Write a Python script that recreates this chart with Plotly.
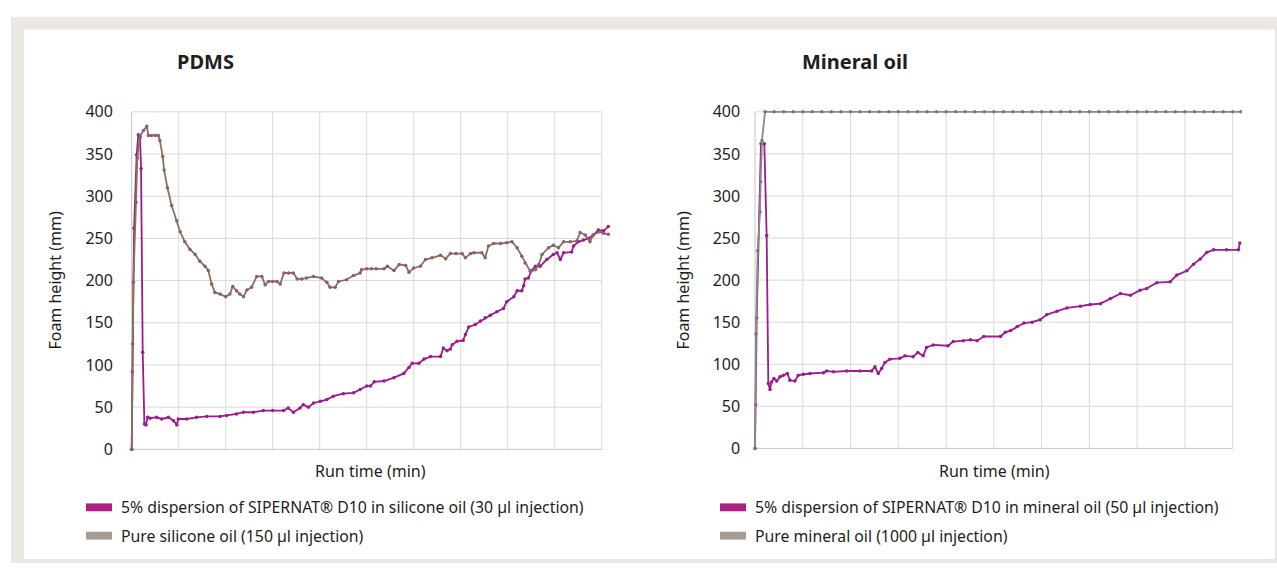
import plotly.graph_objects as go

# ---------------- data ----------------
# PDMS panel: pure silicone oil (150 µl)
pdms_oil_t = [0, 0.035, 0.092, 0.12, 0.177, 0.25, 0.32, 0.355, 0.42, 0.5, 0.567, 0.60, 0.66, 0.69, 0.76, 0.85,
              0.96, 1.03, 1.13, 1.24, 1.35, 1.45, 1.56, 1.63, 1.70, 1.77, 1.88, 2.0, 2.09, 2.15, 2.23, 2.30,
              2.38, 2.45, 2.55, 2.66, 2.77, 2.84, 2.91, 3.0, 3.09, 3.16, 3.24, 3.34, 3.44, 3.52, 3.62, 3.72,
              3.87, 4.04, 4.15, 4.22, 4.33, 4.40, 4.57, 4.72, 4.86, 4.89, 5.0, 5.1, 5.2, 5.37, 5.44, 5.58,
              5.69, 5.83, 5.90, 6.0, 6.14, 6.25, 6.39, 6.57, 6.68, 6.78, 6.9, 7.03, 7.10, 7.21, 7.28, 7.45,
              7.52, 7.59, 7.70, 7.85, 7.98, 8.09, 8.20, 8.30, 8.37, 8.48, 8.59, 8.66, 8.73, 8.87, 8.97, 9.08,
              9.19, 9.33, 9.47, 9.54, 9.65, 9.75, 9.82, 9.96, 10.04, 10.14]
pdms_oil_h = [0, 198, 293, 345, 372, 378, 383, 372, 372, 372, 372, 366, 347, 331, 310, 289,
              271, 258, 246, 237, 231, 223, 217, 212, 196, 186, 184, 181, 184, 193, 188, 184,
              181, 189, 192, 205, 205, 195, 199, 199, 199, 196, 209, 209, 209, 202, 202, 203,
              205, 203, 198, 192, 192, 199, 201, 206, 209, 213, 214, 214, 214, 214, 217, 212,
              219, 218, 210, 215, 217, 225, 227, 230, 226, 232, 232, 232, 227, 232, 233, 233,
              227, 241, 244, 244, 245, 246, 239, 229, 221, 211, 213, 219, 231, 239, 242, 239,
              246, 246, 247, 257, 254, 246, 254, 258, 256, 255]

# PDMS panel: 5% SIPERNAT D10 dispersion (30 µl)
pdms_disp_t = [0, 0.014, 0.021, 0.05, 0.106, 0.142, 0.177, 0.199, 0.234, 0.27, 0.305, 0.34, 0.39, 0.53, 0.64,
               0.78, 0.89, 0.96, 0.99, 1.17, 1.38, 1.60, 1.88, 2.02, 2.23, 2.38, 2.59, 2.80, 3.0, 3.23, 3.33,
               3.44, 3.58, 3.65, 3.76, 3.87, 4.01, 4.15, 4.29, 4.50, 4.72, 4.86, 5.0, 5.08, 5.16, 5.37, 5.58,
               5.79, 5.90, 5.97, 6.11, 6.22, 6.36, 6.57, 6.63, 6.71, 6.78, 6.82, 6.92, 7.05, 7.10, 7.17, 7.31,
               7.42, 7.52, 7.63, 7.77, 7.91, 7.98, 8.13, 8.20, 8.30, 8.34, 8.37, 8.44, 8.51, 8.59, 8.69, 8.83,
               8.97, 9.05, 9.12, 9.19, 9.36, 9.40, 9.50, 9.61, 9.72, 9.82, 9.93, 10.04, 10.14]
pdms_disp_h = [0, 92, 125, 262, 349, 373, 370, 333, 115, 30, 29, 38, 37, 38, 36,
               38, 34, 29, 36, 36, 38, 39, 39, 40, 42, 44, 44, 46, 46, 46, 49,
               44, 49, 53, 50, 55, 57, 59, 63, 66, 67, 71, 75, 75, 80, 81, 85,
               90, 97, 102, 102, 107, 110, 110, 120, 117, 119, 124, 128, 129, 136, 145, 148,
               152, 156, 159, 163, 167, 175, 181, 188, 188, 194, 202, 203, 212, 217, 217, 225,
               231, 233, 225, 233, 234, 241, 246, 248, 250, 254, 260, 259, 264]

# Mineral oil panel: pure mineral oil (1000 µl)
min_oil_t = [0, 0.02, 0.056, 0.105, 0.118, 0.146, 0.21, 0.4, 0.6, 0.8, 1.0, 1.2, 1.4, 1.6, 1.8, 2.0,
             2.2, 2.4, 2.6, 2.8, 3.0, 3.2, 3.4, 3.6, 3.8, 4.0, 4.2, 4.4, 4.6, 4.8, 5.0, 5.2, 5.4, 5.6,
             5.8, 6.0, 6.2, 6.4, 6.6, 6.8, 7.0, 7.2, 7.4, 7.6, 7.8, 8.0, 8.2, 8.4, 8.6, 8.8, 9.0, 9.2,
             9.4, 9.6, 9.8, 10.0, 10.17]
min_oil_h = [0, 136, 235, 281, 317, 366, 400, 400, 400, 400, 400, 400, 400, 400, 400, 400,
             400, 400, 400, 400, 400, 400, 400, 400, 400, 400, 400, 400, 400, 400, 400, 400, 400, 400,
             400, 400, 400, 400, 400, 400, 400, 400, 400, 400, 400, 400, 400, 400, 400, 400, 400, 400,
             400, 400, 400, 400, 400]

# Mineral oil panel: 5% SIPERNAT D10 dispersion (50 µl)
min_disp_t = [0, 0.014, 0.035, 0.125, 0.195, 0.244, 0.279, 0.314, 0.348, 0.397, 0.453, 0.523, 0.592, 0.676,
              0.732, 0.836, 0.906, 1.01, 1.15, 1.43, 1.50, 1.64, 1.92, 2.2, 2.44, 2.51, 2.58, 2.65, 2.72,
              2.82, 3.03, 3.14, 3.31, 3.41, 3.52, 3.59, 3.73, 4.04, 4.15, 4.36, 4.51, 4.65, 4.79, 5.14,
              5.24, 5.35, 5.49, 5.63, 5.80, 5.97, 6.11, 6.32, 6.53, 6.81, 7.02, 7.23, 7.44, 7.65, 7.86,
              8.06, 8.20, 8.41, 8.69, 8.83, 9.04, 9.18, 9.32, 9.46, 9.60, 9.87, 10.12, 10.15]
min_disp_h = [0, 52, 155, 362, 362, 253, 77, 70, 79, 83, 80, 85, 87, 89,
              81, 80, 87, 88, 89, 90, 92, 91, 92, 92, 92, 97, 89, 95, 102,
              106, 107, 110, 109, 114, 110, 120, 123, 122, 127, 128, 129, 128, 133, 133,
              138, 140, 145, 149, 150, 153, 159, 163, 167, 169, 171, 172, 178, 184, 182,
              188, 190, 197, 198, 206, 211, 219, 225, 233, 236, 236, 236, 244]

y_ticks = [0, 50, 100, 150, 200, 250, 300, 350, 400]
x_grid = [0, 1, 2, 3, 4, 5, 6, 7, 8, 9, 10]

panel_titles = ["PDMS", "Mineral oil"]
y_title = "Foam height (mm)"
x_title = "Run time (min)"
legend_pdms = ["5% dispersion of SIPERNAT® D10 in silicone oil (30 µl injection)",
               "Pure silicone oil (150 µl injection)"]
legend_min = ["5% dispersion of SIPERNAT® D10 in mineral oil (50 µl injection)",
              "Pure mineral oil (1000 µl injection)"]

# ---------------- styling ----------------
W, H = 1277, 569
FONT = "Noto Sans"
TXT = "#1e1e1e"
PURPLE = "#9c1c8c"
PURPLE_LEG = "#ae2180"
BROWN = "#857556"
BROWN_MK = "#8d5d75"
GRAY = "#8a8a8a"
GRAY_MK = "#7a7a7a"
BEIGE_LEG = "#a69c92"
GRID = "#d9d9d9"
FRAME = "#ebe7e1"


def fx(px):
    return px / W


def fy(py):
    return 1 - py / H


# pixel calibration of each panel (value->pixel)
panels = [
    dict(x0=131.7, xs=47.0, y0=452.7, ys=0.8635, standoff=15, title_x=205, ytitle_x=55, xtitle_x=370, sw_x=86),
    dict(x0=755.0, xs=47.77, y0=451.7, ys=0.861, standoff=11, title_x=855, ytitle_x=683, xtitle_x=994, sw_x=720),
]
XR = [-0.06, 10.2]
YR = [-5, 405]

fig = go.Figure()

series = [
    (0, pdms_disp_t, pdms_disp_h, PURPLE, PURPLE),
    (0, pdms_oil_t, pdms_oil_h, BROWN, BROWN_MK),
    (1, min_disp_t, min_disp_h, PURPLE, PURPLE),
    (1, min_oil_t, min_oil_h, GRAY, GRAY_MK),
]
for idx, t, h, lc, mc in series:
    sfx = "" if idx == 0 else "2"
    fig.add_trace(go.Scatter(
        x=t, y=h, mode="lines+markers", xaxis="x" + sfx, yaxis="y" + sfx,
        line=dict(color=lc, width=1.8), marker=dict(color=mc, size=3.5),
        showlegend=False, hoverinfo="skip"))

shapes = []
annotations = []
# outer frame
shapes.append(dict(type="rect", xref="paper", yref="paper", x0=fx(11), x1=fx(1277), y0=fy(569), y1=fy(10),
                   fillcolor=FRAME, line=dict(width=0), layer="below"))
shapes.append(dict(type="rect", xref="paper", yref="paper", x0=fx(24), x1=fx(1275), y0=fy(565), y1=fy(23),
                   fillcolor="white", line=dict(width=0), layer="below"))

for i, p in enumerate(panels):
    sfx = "" if i == 0 else "2"
    dom_x = [fx(p["x0"] + p["xs"] * XR[0]), fx(p["x0"] + p["xs"] * XR[1])]
    dom_y = [fy(p["y0"] - p["ys"] * YR[0]), fy(p["y0"] - p["ys"] * YR[1])]
    fig.layout["xaxis" + sfx] = dict(domain=dom_x, range=XR, showgrid=False, zeroline=False, showline=False,
                                     showticklabels=False, ticks="", fixedrange=True,
                                     anchor="y" + sfx)
    fig.layout["yaxis" + sfx] = dict(domain=dom_y, range=YR, showgrid=False, zeroline=False, showline=False,
                                     tickvals=y_ticks, ticks="", ticklabelstandoff=p["standoff"],
                                     tickfont=dict(family=FONT, size=16, color=TXT), fixedrange=True,
                                     anchor="x" + sfx)
    xr, yr = "x" + sfx, "y" + sfx
    for gx in x_grid:
        shapes.append(dict(type="line", xref=xr, yref=yr, x0=gx, x1=gx, y0=0, y1=400,
                           line=dict(color="#c4c4c4" if gx == 0 else GRID, width=1), layer="below"))
    for gy in y_ticks:
        shapes.append(dict(type="line", xref=xr, yref=yr, x0=0, x1=10, y0=gy, y1=gy,
                           line=dict(color="#c4c4c4" if gy == 0 else GRID, width=1), layer="below"))

    # panel title
    annotations.append(dict(xref="paper", yref="paper", x=fx(p["title_x"]), y=fy(56),
                            text="<b>%s</b>" % panel_titles[i],
                            showarrow=False, xanchor="center", yanchor="middle",
                            font=dict(family=FONT, size=20, color=TXT)))
    # axis titles
    annotations.append(dict(xref="paper", yref="paper", x=fx(p["ytitle_x"]), y=fy(280), text=y_title,
                            textangle=-90, showarrow=False, xanchor="center", yanchor="middle",
                            font=dict(family=FONT, size=16, color=TXT)))
    annotations.append(dict(xref="paper", yref="paper", x=fx(p["xtitle_x"]), y=fy(475), text=x_title,
                            showarrow=False, xanchor="center", yanchor="middle",
                            font=dict(family=FONT, size=16, color=TXT)))

    # legend
    leg_txt = legend_pdms if i == 0 else legend_min
    sw_x = p["sw_x"]
    for j, (lab, col) in enumerate(zip(leg_txt, [PURPLE_LEG, BEIGE_LEG])):
        cy = [512, 541][j]
        shapes.append(dict(type="rect", xref="paper", yref="paper", x0=fx(sw_x), x1=fx(sw_x + 26),
                           y0=fy(cy + 4), y1=fy(cy - 4), fillcolor=col, line=dict(width=0)))
        annotations.append(dict(xref="paper", yref="paper", x=fx(sw_x + 33), y=fy(cy), text=lab,
                                showarrow=False, xanchor="left", yanchor="middle",
                                font=dict(family=FONT, size=15.8, color=TXT)))

fig.update_layout(width=W, height=H, autosize=False, margin=dict(l=0, r=0, t=0, b=0), paper_bgcolor="white",
                  plot_bgcolor="rgba(0,0,0,0)", shapes=shapes, annotations=annotations)

fig.write_html("out.html", config={"displayModeBar": False},
               post_script="document.body.style.margin='0';document.body.style.overflow='hidden';")
